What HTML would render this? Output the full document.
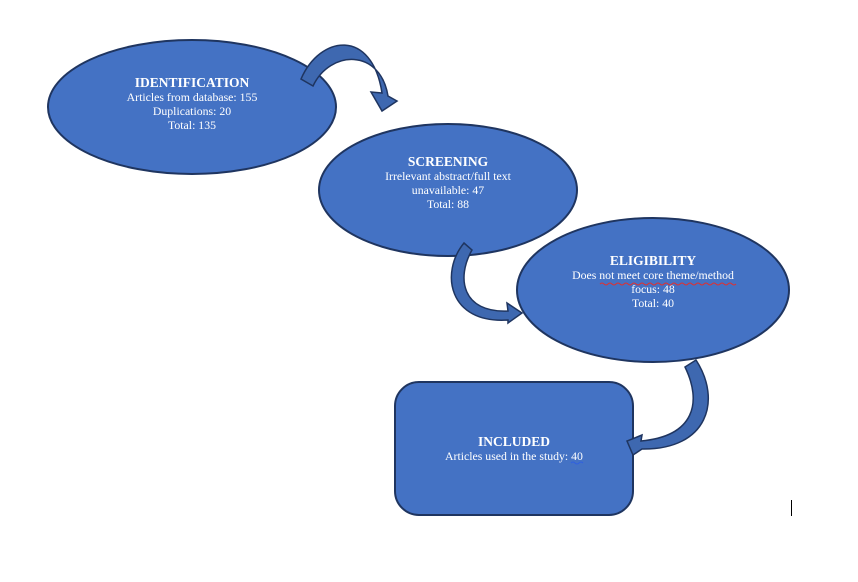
<!DOCTYPE html>
<html><head><meta charset="utf-8"><style>
html,body{margin:0;padding:0;background:#fff;width:858px;height:582px;overflow:hidden}
text{font-family:"Liberation Serif",serif;fill:#fff}
</style></head><body>
<svg width="858" height="582" viewBox="0 0 858 582" xmlns="http://www.w3.org/2000/svg">
<g stroke="#1f3560" stroke-width="2" fill="#4472c4">
<ellipse cx="192" cy="107" rx="144" ry="67"/>
<ellipse cx="448" cy="190" rx="129" ry="66"/>
<ellipse cx="653" cy="290" rx="136" ry="72"/>
<rect x="395" y="382" width="238" height="133" rx="24"/>
</g>
<g stroke="#1f3560" stroke-width="1.5" fill="#3e68b0" stroke-linejoin="miter">
<path d="M301,79 C320,35 372,28 382,93 L371,92 L382,111 L397,101 L388,96 C380,48 330,50 313,86 Z"/>
<path d="M464,243 C440,272 448,324 508,320 L508,323 L522,313 L507,303 L508,311 C462,313 456,278 472,250 Z"/>
<path d="M696,360 C722,400 708,450 642,449 L633,455 L627,441 L642,435 L641,441 C695,436 702,402 685,367 Z"/>
</g>
<g text-anchor="middle" font-size="11.8">
<text x="192" y="87" font-size="13.5" font-weight="bold">IDENTIFICATION</text>
<text x="192" y="101">Articles from database: 155</text>
<text x="192" y="115">Duplications: 20</text>
<text x="192" y="129">Total: 135</text>
<text x="448" y="166" font-size="13.5" font-weight="bold">SCREENING</text>
<text x="448" y="180">Irrelevant abstract/full text</text>
<text x="448" y="194">unavailable: 47</text>
<text x="448" y="208">Total: 88</text>
<text x="653" y="265" font-size="13.5" font-weight="bold">ELIGIBILITY</text>
<text x="653" y="279">Does not meet core theme/method</text>
<text x="653" y="293">focus: 48</text>
<text x="653" y="307">Total: 40</text>
<text x="514" y="446" font-size="13.5" font-weight="bold">INCLUDED</text>
<text x="514" y="460">Articles used in the study: 40</text>
</g>
<path d="M600,284 q2,-2 4,0 t4,0 t4,0 t4,0 t4,0 t4,0 t4,0 t4,0 t4,0 t4,0 t4,0 t4,0 t4,0 t4,0 t4,0 t4,0 t4,0 t4,0 t4,0 t4,0 t4,0 t4,0 t4,0 t4,0 t4,0 t4,0 t4,0 t4,0 t4,0 t4,0 t4,0 t4,0 t4,0 t4,0" stroke="#e03030" stroke-width="1" fill="none"/>
<path d="M571,463 q2,-2 4,0 t4,0 t4,0" stroke="#3060e0" stroke-width="1" fill="none"/>
<line x1="791.5" y1="500" x2="791.5" y2="516" stroke="#000" stroke-width="1"/>
</svg>
</body></html>
